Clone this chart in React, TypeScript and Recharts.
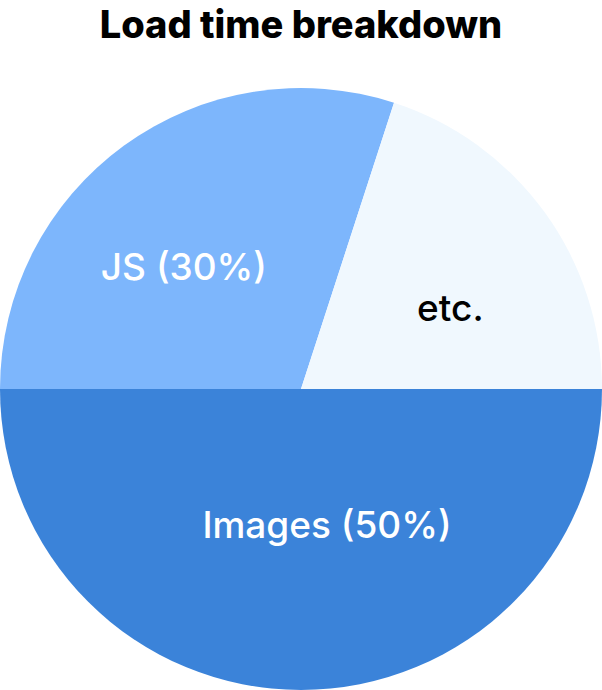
import React from "react";
import { PieChart, Pie, Cell } from "recharts";

// slices, in drawing order (clockwise from 3 o'clock)
const categories = ["Images", "JS", "etc."];
const shares = [50, 30, 20];
const labels = ["Images (50%)", "JS (30%)", "etc."];
const colors = ["#3b83d9", "#7db6fc", "#f0f8fe"];
const labelColors = ["#ffffff", "#ffffff", "#000000"];

const data = categories.map((name, i) => ({ name, value: shares[i], label: labels[i] }));

const RADIAN = Math.PI / 180;

// hand nudges so the labels sit where the original put them
const labelNudge: Record<string, [number, number]> = {
  Images: [26, -33],
  JS: [-18, 14],
  "etc.": [13, 18],
};

function renderLabel(props: any) {
  const { cx, cy, midAngle, outerRadius, index } = props;
  const r = outerRadius * 0.56;
  const [dx, dy] = labelNudge[data[index].name] || [0, 0];
  const x = cx + r * Math.cos(-midAngle * RADIAN) + dx;
  const y = cy + r * Math.sin(-midAngle * RADIAN) + dy;
  return (
    <text
      x={x}
      y={y}
      fill={labelColors[index]}
      textAnchor="middle"
      dominantBaseline="central"
      fontFamily="Inter"
      fontWeight={500}
      fontSize={37}
    >
      {data[index].label}
    </text>
  );
}

export default function App() {
  return (
    <div style={{ position: "fixed", left: 0, top: 0, width: 602, height: 690, background: "#fff" }}>
      <PieChart
        width={602}
        height={690}
        margin={{ top: 0, right: 0, bottom: 0, left: 0 }}
        style={{ position: "absolute", top: 0, left: 0 }}
      >
        <Pie
          data={data}
          dataKey="value"
          nameKey="name"
          cx={301}
          cy={389}
          outerRadius={301}
          startAngle={0}
          endAngle={-360}
          stroke="none"
          labelLine={false}
          label={renderLabel}
          isAnimationActive={false}
        >
          {data.map((d, i) => (
            <Cell key={d.name} fill={colors[i]} />
          ))}
        </Pie>
      </PieChart>
      <div
        style={{
          position: "absolute",
          top: 0,
          left: 0,
          width: 602,
          textAlign: "center",
          fontFamily: "Inter",
          fontWeight: 800,
          fontSize: 38,
          lineHeight: "48px",
          color: "#000",
        }}
      >
        Load time breakdown
      </div>
    </div>
  );
}
